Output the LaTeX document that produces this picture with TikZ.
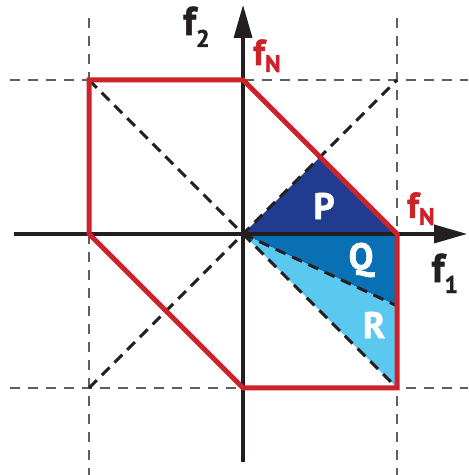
\documentclass[tikz,border=0pt]{standalone}
\usepackage{fontspec}
\setsansfont{PT Sans}[BoldFeatures={FakeBold=1.6}]
\usetikzlibrary{arrows.meta}
\definecolor{hexred}   {RGB}{204, 34, 41}
\definecolor{regdark}  {RGB}{ 33, 60,142}
\definecolor{regmid}   {RGB}{ 10,112,180}
\definecolor{reglight} {RGB}{ 91,200,240}
\definecolor{axblack}  {RGB}{ 35, 31, 32}
\definecolor{gridgray} {RGB}{ 95, 95, 95}
\newcommand{\lowsub}[2]{\raisebox{-#1}{\fontsize{24}{24}\selectfont #2}}
\tikzset{
  axisln/.style={line width=3.4pt,color=axblack,
                 -{Triangle[length=33pt,width=18pt]}},
  gridln/.style={line width=1.5pt,color=gridgray,dash pattern=on 10pt off 8pt},
  diagln/.style={line width=3pt,color=axblack,dash pattern=on 11pt off 7pt},
  hexln/.style={line width=5pt,color=hexred,line join=miter},
  lbl/.style={font=\sffamily\bfseries\fontsize{40}{40}\selectfont,
              inner sep=0pt,text=axblack},
  fnlbl/.style={lbl,font=\sffamily\bfseries\fontsize{36}{36}\selectfont,
                text=hexred,anchor=base west},
  reglbl/.style={lbl,font=\sffamily\bfseries\fontsize{37}{37}\selectfont,
                 text=white},
}
\begin{document}
\begin{tikzpicture}[x=154pt,y=154pt]
  \useasboundingbox (-1.578,-1.565) rectangle (1.461,1.519);
  % corner points
  \coordinate (O)  at (0,0);
  \coordinate (tl) at (-1,1);
  \coordinate (tm) at (0,1);
  \coordinate (tr) at (1,1);
  \coordinate (mr) at (1,0);
  \coordinate (br) at (1,-1);
  \coordinate (bm) at (0,-1);
  \coordinate (bl) at (-1,-1);
  \coordinate (ml) at (-1,0);
  \coordinate (pk) at (0.5,0.5);
  \coordinate (qr) at (1,-0.467);

  % regions
  \fill[regdark]  (O) -- (pk) -- (mr) -- cycle;
  \fill[regmid]   (O) -- (mr) -- (qr) -- cycle;
  \fill[reglight] (O) -- (qr) -- (br) -- cycle;

  % grid
  \draw[gridln] (-1,1.40) -- (-1,-1.565);
  \draw[gridln] (1,1.40) -- (1,-1.565);
  \draw[gridln] (-1.513,1) -- (1.461,1);
  \draw[gridln] (-1.513,-1) -- (1.461,-1);

  % diagonals
  \draw[diagln] (tl) -- (O);
  \draw[diagln] (bl) -- (tr);
  \draw[diagln] (O) -- (br);
  \draw[diagln] (O) -- (qr);

  % axes
  \draw[axisln] (-1.487,0) -- (1.455,0);
  \draw[axisln] (0,-1.481) -- (0,1.487);

  % hexagon
  \draw[hexln] (tl) -- (tm) -- (mr) -- (br) -- (bm) -- (ml) -- cycle;

  % labels
  \node[reglbl] (lp) at (0.526,0.182) {P};
  \node[reglbl] (lq) at (0.766,-0.169) {Q};
  \node[reglbl] (lr) at (0.851,-0.591) {R};
  \node[fnlbl] (fntop) at (0.065,1.097) {f\lowsub{7pt}{N}};
  \node[fnlbl] (fnright) at (1.065,0.104) {f\lowsub{7pt}{N}};
  \node[lbl,anchor=base west] (ftwo) at (-0.390,1.292) {f\lowsub{12pt}{2}};
  \node[lbl,anchor=base west] (fone) at (1.223,-0.312) {f\lowsub{11pt}{1}};
\end{tikzpicture}
\end{document}
